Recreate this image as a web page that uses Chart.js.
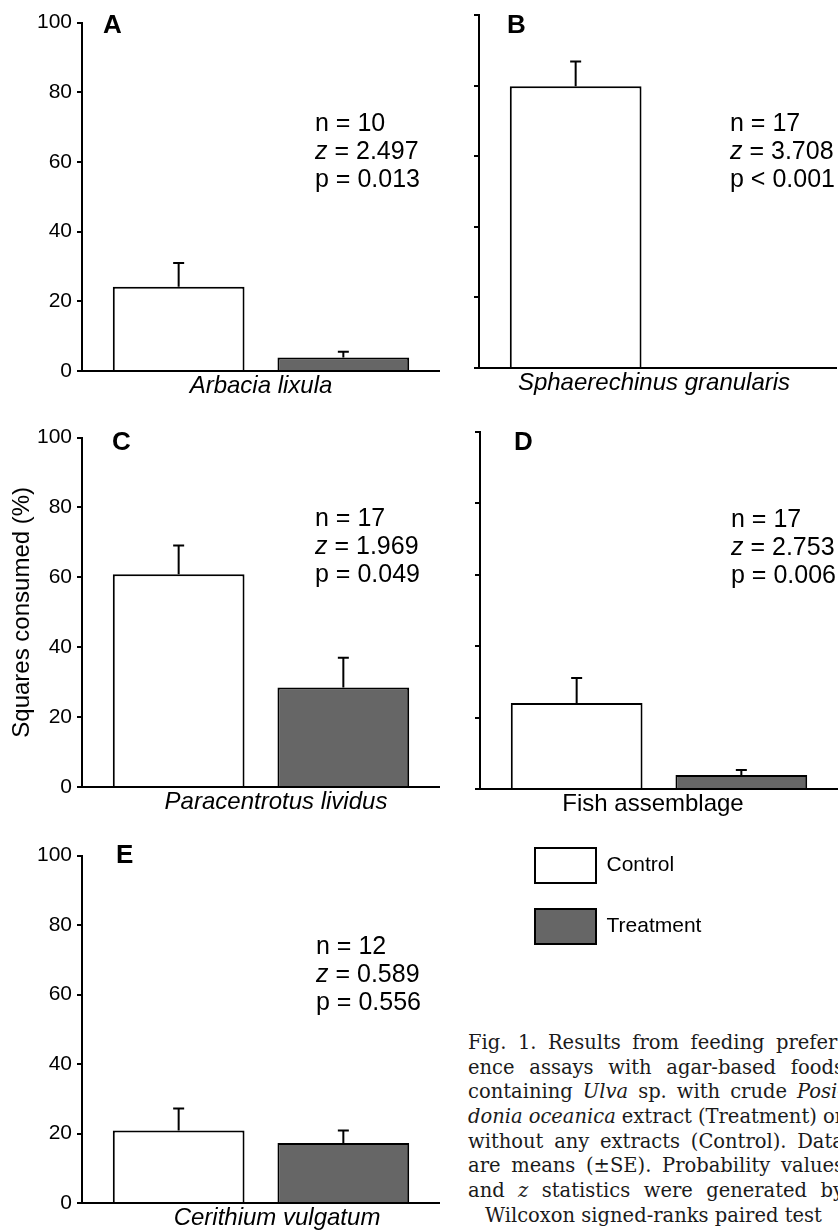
<!DOCTYPE html>
<html>
<head>
<meta charset="utf-8">
<script src="https://cdn.jsdelivr.net/npm/chart.js@4.4.0/dist/chart.umd.min.js"></script>
<style>
html, body { margin: 0; padding: 0; background: #fff; width: 838px; height: 1231px; overflow: hidden; position: relative; }
canvas { position: absolute; }
.letter { position: absolute; font: bold 26px "Liberation Sans", Arial, sans-serif; line-height: 26px; color: #000; }
.stats { position: absolute; font: 25px "Liberation Sans", Arial, sans-serif; line-height: 28px; color: #000; white-space: nowrap; }
.caption { position: absolute; left: 468px; top: 1031px; width: 376px; font: 19.5px "DejaVu Serif", serif; color: #1a1a1a; }
.caption .ln { display: flex; justify-content: space-between; height: 24.7px; line-height: 24.7px; white-space: nowrap; }
.caption .last { padding-left: 17px; }
</style>
</head>
<body>

<canvas id="cA" width="428" height="401" style="left:12px;top:5px"></canvas>
<canvas id="cB" width="388" height="400" style="left:449px;top:3px"></canvas>
<canvas id="cC" width="432" height="402" style="left:8px;top:420px"></canvas>
<canvas id="cD" width="388" height="404" style="left:450px;top:420px"></canvas>
<canvas id="cE" width="428" height="400" style="left:12px;top:838px"></canvas>
<canvas id="cL" width="450" height="150" style="left:509px;top:822px"></canvas>

<div class="letter" style="left:103px;top:11px">A</div>
<div class="letter" style="left:507px;top:11px">B</div>
<div class="letter" style="left:112px;top:428px">C</div>
<div class="letter" style="left:514px;top:428px">D</div>
<div class="letter" style="left:116px;top:841px">E</div>

<div class="stats" id="sA" style="left:315px;top:108px"></div>
<div class="stats" id="sB" style="left:730px;top:108px"></div>
<div class="stats" id="sC" style="left:315px;top:503px"></div>
<div class="stats" id="sD" style="left:731px;top:504px"></div>
<div class="stats" id="sE" style="left:316px;top:931px"></div>

<div class="caption">
  <div class="ln"><span>Fig.</span><span>1.</span><span>Results</span><span>from</span><span>feeding</span><span>prefer-</span></div>
  <div class="ln"><span>ence</span><span>assays</span><span>with</span><span>agar-based</span><span>foods</span></div>
  <div class="ln"><span>containing</span><span><i>Ulva</i></span><span>sp.</span><span>with</span><span>crude</span><span><i>Posi-</i></span></div>
  <div class="ln"><span><i>donia</i></span><span><i>oceanica</i></span><span>extract</span><span>(Treatment)</span><span>or</span></div>
  <div class="ln"><span>without</span><span>any</span><span>extracts</span><span>(Control).</span><span>Data</span></div>
  <div class="ln"><span>are</span><span>means</span><span>(±SE).</span><span>Probability</span><span>values</span></div>
  <div class="ln"><span>and</span><span><i>z</i></span><span>statistics</span><span>were</span><span>generated</span><span>by</span></div>
  <div class="ln last"><span>Wilcoxon signed-ranks paired test</span></div>
</div>

<script>
// data
const species = ['Arbacia lixula', 'Sphaerechinus granularis', 'Paracentrotus lividus', 'Fish assemblage', 'Cerithium vulgatum'];
const controlMean = [24.2, 79.8, 60.9, 24.1, 20.9];
const controlSE = [6.8, 7.0, 8.2, 7.0, 6.3];
const treatmentMean = [3.9, 0, 28.5, 3.9, 17.3];
const treatmentSE = [1.6, 0, 8.5, 1.4, 3.6];
const nValues = ['10', '17', '17', '17', '12'];
const zValues = ['2.497', '3.708', '1.969', '2.753', '0.589'];
const pValues = ['= 0.013', '< 0.001', '= 0.049', '= 0.006', '= 0.556'];
const yTicks = [0, 20, 40, 60, 80, 100];
const seriesNames = ['Control', 'Treatment'];

Chart.defaults.font.family = '"Liberation Sans", Arial, sans-serif';
Chart.defaults.color = '#000';

// upper error bars (mean + SE)
const errorBars = {
    id: 'errorBars',
    afterDatasetsDraw(chart) {
        const ctx = chart.ctx;
        const y = chart.scales.y;
        chart.data.datasets.forEach((ds, i) => {
            const meta = chart.getDatasetMeta(i);
            meta.data.forEach((bar, j) => {
                const se = ds.errors[j];
                if (!se) return;
                const top = y.getPixelForValue(ds.data[j] + se);
                ctx.save();
                ctx.strokeStyle = '#000';
                ctx.lineWidth = 2;
                ctx.beginPath();
                ctx.moveTo(bar.x, bar.y);
                ctx.lineTo(bar.x, top);
                ctx.moveTo(bar.x - 5.5, top);
                ctx.lineTo(bar.x + 5.5, top);
                ctx.stroke();
                ctx.restore();
            });
        });
    }
};

// one chart per panel
const panels = [
    {id: 'cA', yw: 70, showLabels: true, italic: true, labelOffset: 0},
    {id: 'cB', yw: 30, showLabels: false, italic: true, labelOffset: -4},
    {id: 'cC', yw: 74, showLabels: true, italic: true, labelOffset: 15, title: 'Squares consumed (%)'},
    {id: 'cD', yw: 30, showLabels: false, italic: false, labelOffset: -6},
    {id: 'cE', yw: 70, showLabels: true, italic: true, labelOffset: 16}
];

panels.forEach((p, i) => {
    new Chart(document.getElementById(p.id), {
        type: 'bar',
        data: {
            labels: [species[i]],
            datasets: [{
                label: seriesNames[0],
                data: [controlMean[i]],
                errors: [controlSE[i]],
                backgroundColor: '#ffffff',
                borderColor: '#000',
                borderWidth: 2,
                categoryPercentage: 0.92,
                barPercentage: 0.8
            }, {
                label: seriesNames[1],
                data: [treatmentMean[i]],
                errors: [treatmentSE[i]],
                backgroundColor: '#666666',
                borderColor: '#000',
                borderWidth: 2,
                categoryPercentage: 0.92,
                barPercentage: 0.8
            }]
        },
        options: {
            responsive: false,
            animation: false,
            layout: {padding: {top: 12, left: 0, right: 0, bottom: 0}},
            plugins: {legend: {display: false}, tooltip: {enabled: false}},
            scales: {
                x: {
                    grid: {display: false, drawTicks: false},
                    border: {color: '#000', width: 2},
                    ticks: {
                        font: {size: 24, style: p.italic ? 'italic' : 'normal'},
                        color: '#000', padding: 1, labelOffset: p.labelOffset
                    },
                    afterFit: s => { s.height = 35; }
                },
                y: {
                    min: 0, max: 100,
                    afterBuildTicks: s => { s.ticks = yTicks.map(v => ({value: v})); },
                    ticks: {display: p.showLabels, font: {size: 21}, color: '#000', padding: 5},
                    grid: {drawOnChartArea: false, drawTicks: true, tickLength: 5, color: '#000', lineWidth: 2},
                    border: {color: '#000', width: 2},
                    title: {
                        display: !!p.title, text: p.title || '',
                        font: {size: 24}, color: '#000', padding: {top: 0, bottom: 0}
                    },
                    afterFit: s => { s.width = p.yw; }
                }
            }
        },
        plugins: [errorBars]
    });

    document.getElementById('s' + 'ABCDE'[i]).innerHTML =
        'n = ' + nValues[i] + '<br><i>z</i> = ' + zValues[i] + '<br>p ' + pValues[i];
});

// legend-only chart
new Chart(document.getElementById('cL'), {
    type: 'bar',
    data: {
        labels: [],
        datasets: [
            {label: seriesNames[0], data: [], backgroundColor: '#ffffff', borderColor: '#000', borderWidth: 2},
            {label: seriesNames[1], data: [], backgroundColor: '#666666', borderColor: '#000', borderWidth: 2}
        ]
    },
    options: {
        responsive: false,
        animation: false,
        layout: {padding: 0},
        scales: {x: {display: false}, y: {display: false}},
        plugins: {
            tooltip: {enabled: false},
            legend: {
                position: 'left',
                align: 'start',
                labels: {boxWidth: 61, boxHeight: 35, padding: 26, font: {size: 21}, color: '#000'}
            }
        }
    }
});
</script>
</body>
</html>
